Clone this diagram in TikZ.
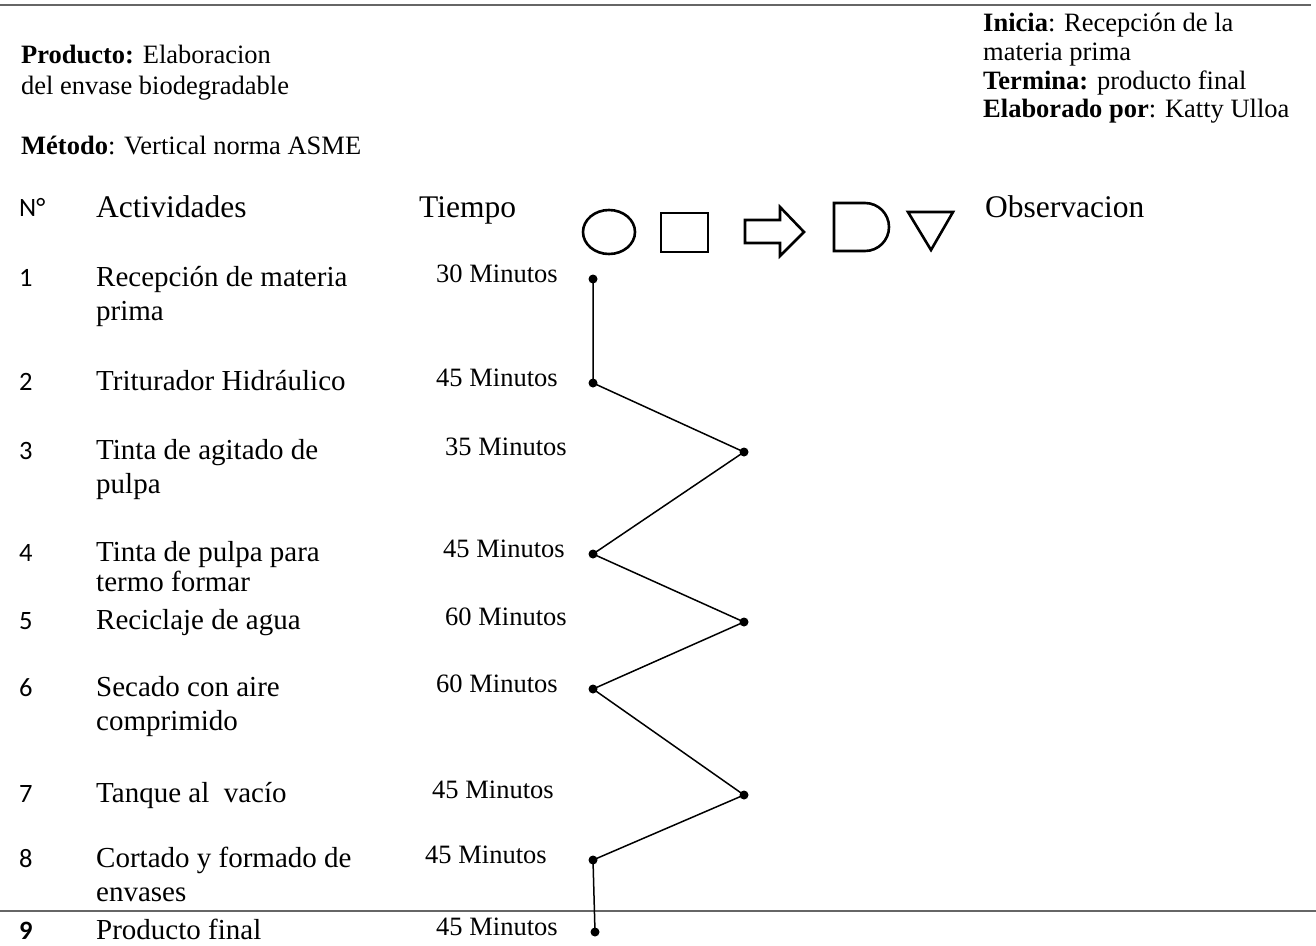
\documentclass[tikz,border=0pt]{standalone}
\usepackage{fontspec}
\setmainfont{Liberation Serif}
\newfontfamily\numfont{Carlito}
\newcommand\actf{\fontsize{29}{35}\selectfont}
\newcommand\minf{\fontsize{26.5}{30}\selectfont}
\newcommand\headf{\fontsize{31.5}{38}\selectfont}
\newcommand\blockf{\fontsize{26.5}{30}\selectfont}
\newcommand\nrf{\numfont\fontsize{26.5}{30}\selectfont}
\tikzset{
  act/.style={anchor=base west, inner sep=0, font=\actf},
  mins/.style={anchor=base west, inner sep=0, font=\minf},
  head/.style={anchor=base west, inner sep=0, font=\headf},
  blk/.style={anchor=base west, inner sep=0, font=\blockf},
  nr/.style={anchor=base west, inner sep=0, font=\nrf},
  dot/.style={circle, fill=black, inner sep=0, minimum size=9pt},
  conn/.style={line width=1.5pt},
  sym/.style={line width=2.6pt, line join=miter},
  rule/.style={draw=black!60, line width=2.4pt}
}
\begin{document}
\begin{tikzpicture}[x=1pt, y=-1pt]
\useasboundingbox (0,0) rectangle (1316,945);
% rules
\coordinate (tl) at (0,5); \coordinate (tr) at (1311,5);
\draw[rule] (tl) -- (tr);
\coordinate (bl) at (0,911); \coordinate (br) at (1316,911);
\draw[rule, line width=2pt] (bl) -- (br);
% left block
\node[blk] (prod) at (21,63) {\textbf{Producto:} Elaboracion};
\node[blk] (prod2) at (21,94) {del envase biodegradable};
\node[blk] (met) at (21,154) {\textbf{Método}: Vertical norma ASME};
% right block
\node[blk] (ini) at (983,31) {\textbf{Inicia}: Recepción de la};
\node[blk] (ini2) at (983,60) {materia prima};
\node[blk] (ter) at (983,89) {\textbf{Termina:} producto final};
\node[blk] (ela) at (983,117) {\textbf{Elaborado por}: Katty Ulloa};
% header
\node[nr] (hn) at (19,216) {N°};
\node[head] (hact) at (96,217) {Actividades};
\node[head] (htie) at (419,217) {Tiempo};
\node[head] (hobs) at (985,217) {Observacion};
% symbols
\draw[sym] (609,232) ellipse [x radius=26, y radius=22];
\draw[sym] (661,213) rectangle (708,252);
\draw[sym] (745,220) -- (780,220) -- (780,207) -- (804,232) -- (780,256) -- (780,243) -- (745,243) -- cycle;
\draw[sym] (865,203) -- (834,203) -- (834,251) -- (865,251) arc[start angle=90, end angle=-90, x radius=24, y radius=24];
\draw[sym] (908,212) -- (953,212) -- (931,250) -- cycle;
% numbers
\node[nr] (n1) at (19,286) {1};
\node[nr] (n2) at (19,390) {2};
\node[nr] (n3) at (19,459) {3};
\node[nr] (n4) at (19,561) {4};
\node[nr] (n5) at (19,629) {5};
\node[nr] (n6) at (19,696) {6};
\node[nr] (n7) at (19,802) {7};
\node[nr] (n8) at (19,867) {8};
\node[nr] (n9) at (19,939) {\bfseries 9};
% activities
\node[act] (a1) at (96,286) {Recepción de materia};
\node[act] (a1b) at (96,320) {prima};
\node[act] (a2) at (96,390) {Triturador Hidráulico};
\node[act] (a3) at (96,459) {Tinta de agitado de};
\node[act] (a3b) at (96,493) {pulpa};
\node[act] (a4) at (96,561) {Tinta de pulpa para};
\node[act] (a4b) at (96,591) {termo formar};
\node[act] (a5) at (96,629) {Reciclaje de agua};
\node[act] (a6) at (96,696) {Secado con aire};
\node[act] (a6b) at (96,730) {comprimido};
\node[act] (a7) at (96,802) {Tanque al\ \ vacío};
\node[act] (a8) at (96,867) {Cortado y formado de};
\node[act] (a8b) at (96,901) {envases};
\node[act] (a9) at (96,939) {Producto final};
% times
\node[mins] (t1) at (436,282) {30 Minutos};
\node[mins] (t2) at (436,386) {45 Minutos};
\node[mins] (t3) at (445,455) {35 Minutos};
\node[mins] (t4) at (443,557) {45 Minutos};
\node[mins] (t5) at (445,625) {60 Minutos};
\node[mins] (t6) at (436,692) {60 Minutos};
\node[mins] (t7) at (432,798) {45 Minutos};
\node[mins] (t8) at (425,863) {45 Minutos};
\node[mins] (t9) at (436,935) {45 Minutos};
% dots
\node[dot] (d1) at (593,279) {};
\node[dot] (d2) at (593,383) {};
\node[dot] (d3) at (744,452) {};
\node[dot] (d4) at (593,554) {};
\node[dot] (d5) at (744,622) {};
\node[dot] (d6) at (593,689) {};
\node[dot] (d7) at (744,795) {};
\node[dot] (d8) at (593,860) {};
\node[dot] (d9) at (595,932) {};
\draw[conn] (d1.center) -- (d2.center) -- (d3.center) -- (d4.center) -- (d5.center) -- (d6.center) -- (d7.center) -- (d8.center) -- (d9.center);
\end{tikzpicture}
\end{document}
